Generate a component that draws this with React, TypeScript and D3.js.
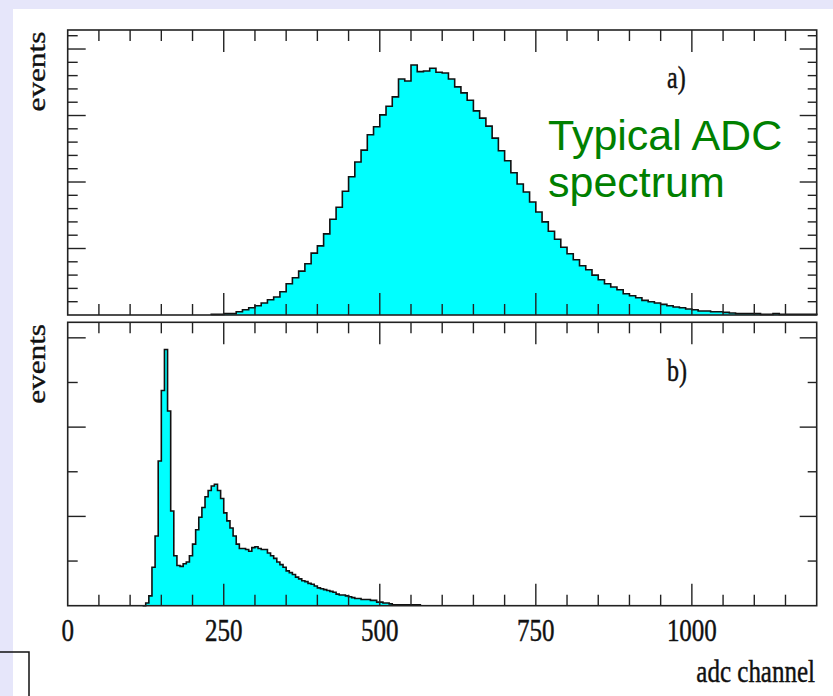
import React from 'react'
import * as d3 from 'd3'

const W = 833
const H = 696

// panel a) counts, 10-channel bins starting at channel 230
const startA = 230
const stepA = 10
const countsA = [
  1, 1, 2, 2, 5, 8, 11, 14, 18, 23, 27, 35, 47, 56, 66, 77, 93, 104, 122, 144,
  162, 186, 208, 230, 248, 271, 283, 301, 314, 328, 355, 352, 376, 366, 367, 371, 365, 364, 355, 343,
  334, 323, 307, 296, 284, 266, 247, 232, 214, 197, 185, 170, 155, 140, 126, 114, 102, 92, 83, 74,
  68, 60, 53, 47, 42, 38, 32, 29, 26, 22, 20, 18, 16, 14, 12, 11, 9, 8, 6, 6,
  5, 5, 4, 3, 2, 2, 2, 2, 1, 1, 2, 1, 1, 1, 1, 1, 1
]

// panel b) counts, 5-channel bins starting at channel 120
const startB = 120
const stepB = 5
const countsB = [
  0, 3, 11, 43, 78, 162, 241, 287, 218, 106, 56, 45, 44, 47, 49, 56, 69, 85, 99, 110,
  122, 129, 134, 136, 129, 120, 104, 95, 87, 78, 69, 64, 64, 63, 61, 65, 66, 64, 63, 63,
  59, 56, 53, 49, 46, 43, 39, 37, 35, 32, 30, 28, 27, 25, 24, 22, 20, 19, 18, 17,
  16, 15, 13, 12, 12, 11, 10, 9, 8, 8, 7, 7, 7, 6, 6, 4, 4, 3, 3, 2,
  1, 1, 1, 1, 1, 1, 1, 1, 1
]

const xMajor = [0, 250, 500, 750, 1000]
const xLabels = ['0', '250', '500', '750', '1000']

const serif = '"Liberation Serif", "Times New Roman", serif'

const left = 67.7
const right = 816.7
const x = d3.scaleLinear().domain([0, 1200]).range([left, right])

function Panel({ top, bottom, yMax, yMajor, yMinor, counts, start, step, tag, tagY }) {
  const y = d3.scaleLinear().domain([0, yMax]).range([bottom, top])

  const end = start + counts.length * step
  const pts = [[start, 0]]
  counts.forEach((v, i) => pts.push([start + i * step, v]))
  pts.push([end, counts[counts.length - 1]])
  pts.push([end, 0])

  const area = d3.area()
    .x(d => x(d[0]))
    .y0(y(0))
    .y1(d => y(d[1]))
    .curve(d3.curveStepAfter)
  const line = d3.line()
    .x(d => x(d[0]))
    .y(d => y(d[1]))
    .curve(d3.curveStepAfter)

  const xMinor = d3.range(50, 1200, 50).filter(v => v % 250 !== 0)
  const yMinorTicks = d3.range(yMinor, yMax, yMinor).filter(v => Math.abs(v / yMajor - Math.round(v / yMajor)) > 1e-6)
  const yMajorTicks = d3.range(yMajor, yMax, yMajor)

  return (
    <g>
      <path d={area(pts)} fill="#00ffff" />
      <path d={line(pts)} fill="none" stroke="#111" strokeWidth={1.6} />
      <g stroke="#222" strokeWidth={1.4}>
        {xMajor.slice(1).map(v => (
          <g key={'M' + v}>
            <line x1={x(v)} x2={x(v)} y1={top} y2={top + 22} />
            <line x1={x(v)} x2={x(v)} y1={bottom} y2={bottom - 22} />
          </g>
        ))}
        {xMinor.map(v => (
          <g key={'m' + v}>
            <line x1={x(v)} x2={x(v)} y1={top} y2={top + 11} />
            <line x1={x(v)} x2={x(v)} y1={bottom} y2={bottom - 11} />
          </g>
        ))}
        {yMajorTicks.map(v => (
          <g key={'YM' + v}>
            <line x1={left} x2={left + 18} y1={y(v)} y2={y(v)} />
            <line x1={right} x2={right - 17} y1={y(v)} y2={y(v)} />
          </g>
        ))}
        {yMinorTicks.map(v => (
          <g key={'Ym' + v}>
            <line x1={left} x2={left + 10} y1={y(v)} y2={y(v)} />
            <line x1={right} x2={right - 9} y1={y(v)} y2={y(v)} />
          </g>
        ))}
      </g>
      <rect x={left} y={top} width={right - left} height={bottom - top} fill="none" stroke="#222" strokeWidth={1.6} />
      <text
        transform={`translate(45,${top + 1.7}) rotate(-90) scale(1.25,1)`}
        textAnchor="end"
        fontFamily={serif}
        fontSize={25}
        fill="#111"
        stroke="#111"
        strokeWidth={0.35}
      >
        events
      </text>
      <text
        transform={`translate(667,${tagY}) scale(1,1.28)`}
        fontFamily={serif}
        fontSize={24}
        fill="#111"
        stroke="#111"
        strokeWidth={0.35}
      >
        {tag}
      </text>
    </g>
  )
}

export default function App() {
  return (
    <svg width={W} height={H} style={{ position: 'absolute', left: 0, top: 0, display: 'block' }}>
      <rect x={0} y={0} width={W} height={H} fill="#e6e6fa" />
      <rect x={13} y={9} width={W - 13} height={H - 9} fill="#ffffff" />
      <path d="M0,652H29V696" fill="none" stroke="#111" strokeWidth={1.5} />

      <Panel top={30} bottom={315} yMax={428.6} yMajor={100} yMinor={20}
        counts={countsA} start={startA} step={stepA} tag="a)" tagY={88} />
      <Panel top={322.3} bottom={605.7} yMax={317.4} yMajor={100} yMinor={50}
        counts={countsB} start={startB} step={stepB} tag="b)" tagY={381} />

      {xMajor.map((v, i) => (
        <text key={v} transform={`translate(${x(v)},641) scale(1,1.28)`} textAnchor="middle"
          fontFamily={serif} fontSize={25} fill="#111" stroke="#111" strokeWidth={0.35}>
          {xLabels[i]}
        </text>
      ))}
      <text transform="translate(815,682) scale(1,1.28)" textAnchor="end"
        fontFamily={serif} fontSize={25} fill="#111" stroke="#111" strokeWidth={0.35}>
        adc channel
      </text>

      <text x={548} y={150} fontFamily='"Liberation Sans", Arial, sans-serif' fontSize={43} fill="#008000">
        Typical ADC
      </text>
      <text x={548} y={197} fontFamily='"Liberation Sans", Arial, sans-serif' fontSize={43} fill="#008000">
        spectrum
      </text>
    </svg>
  )
}
